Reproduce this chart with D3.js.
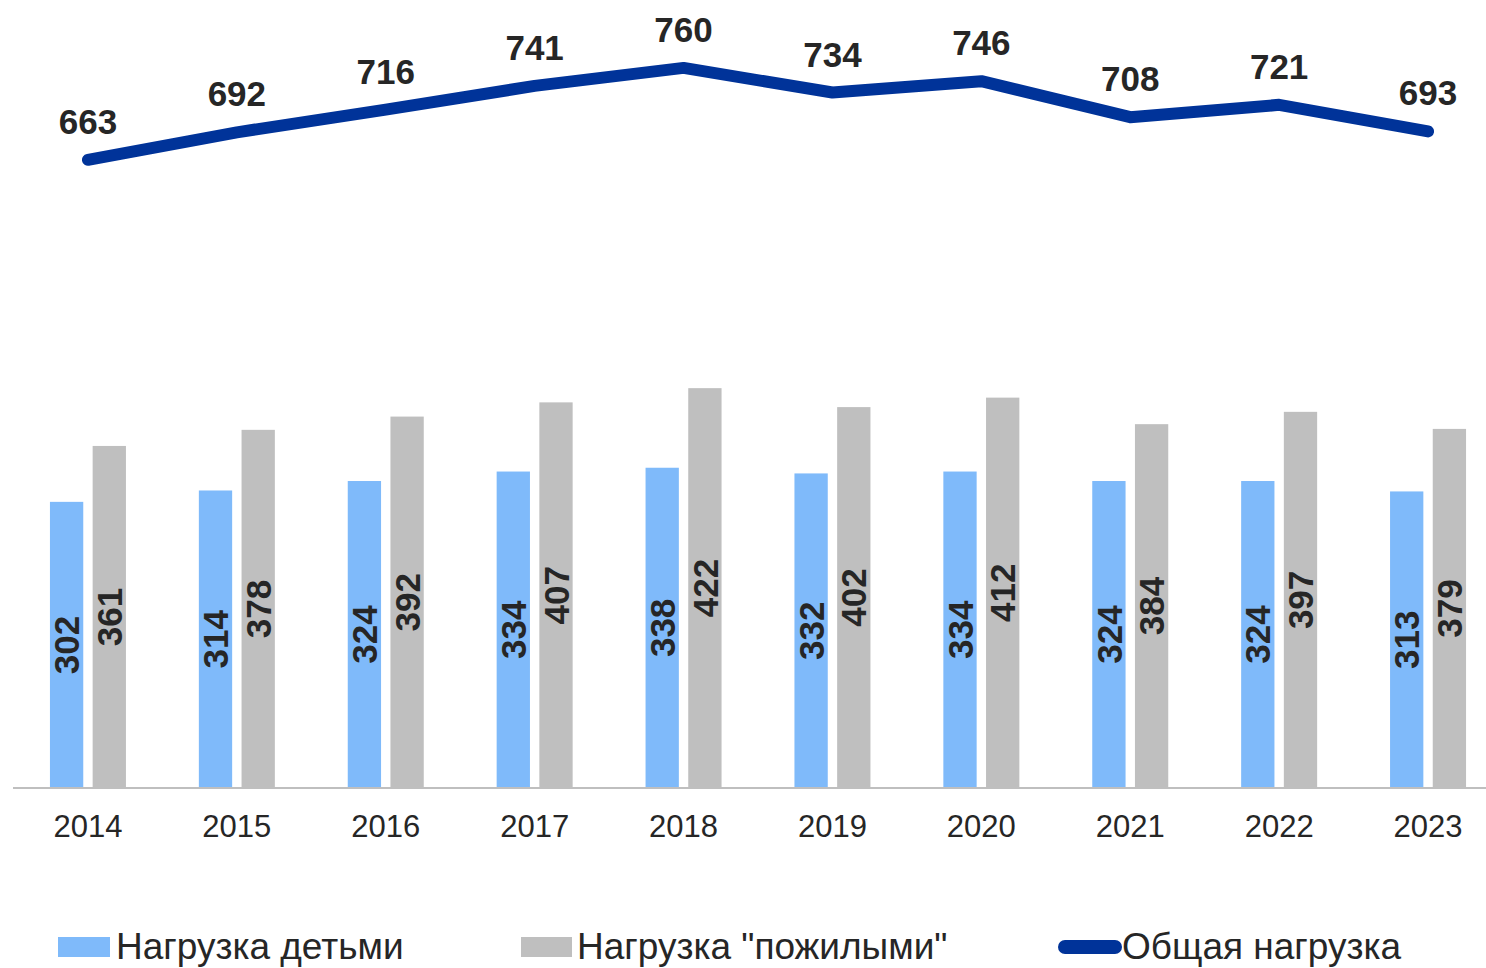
<!DOCTYPE html>
<html><head><meta charset="utf-8">
<script src="https://cdn.jsdelivr.net/npm/d3@7"></script>
<style>html,body{margin:0;padding:0;background:#fff;overflow:hidden}svg{display:block;font-family:"Liberation Sans",Arial,sans-serif}</style>
</head><body>
<svg id="c" width="1486" height="968"></svg>
<script>
const years = ["2014","2015","2016","2017","2018","2019","2020","2021","2022","2023"];
const kids = [302,314,324,334,338,332,334,324,324,313];
const elderly = [361,378,392,407,422,402,412,384,397,379];
const total = [663,692,716,741,760,734,746,708,721,693];
const seriesNames = ["Нагрузка детьми", "Нагрузка \"пожилыми\"", "Общая нагрузка"];

const colKids = "#7fbafa", colOld = "#bfbfbf", colLine = "#003399", txt = "#262626";
const svg = d3.select("#c");
const x = d3.scaleBand().domain(years).range([13.5, 1502.5]);
const xs = d3.scaleBand().domain(["k","o"]).range([-38, 38]).paddingInner(0.22);
const y = d3.scaleLinear().domain([0, 800]).range([788, 30]);
const cx = d => x(d) + x.bandwidth()/2;

// bars
const g = svg.append("g");
years.forEach((yr, i) => {
  [["k", kids[i], colKids], ["o", elderly[i], colOld]].forEach(([k, v, c]) => {
    const bx = cx(yr) + xs(k), bw = xs.bandwidth();
    g.append("rect").attr("x", bx).attr("y", y(v)).attr("width", bw).attr("height", y(0) - y(v)).attr("fill", c);
    const mx = bx + bw/2, my = (y(v) + y(0))/2;
    g.append("text").attr("transform", `translate(${mx},${my}) rotate(-90)`)
      .attr("text-anchor", "middle").attr("dy", "0.36em")
      .attr("font-size", 35).attr("font-weight", "bold").attr("fill", txt).text(v);
  });
});

// axis
const ax = svg.append("g").attr("transform", `translate(0,${y(0)})`)
  .call(d3.axisBottom(x).tickSize(0).tickPadding(0));
ax.select(".domain").attr("d", "M13,0H1486").attr("stroke", "#bfbfbf").attr("stroke-width", 2);
ax.selectAll("text").attr("font-size", 31).attr("fill", txt).attr("font-family", "Liberation Sans, Arial, sans-serif").attr("dy", 0).attr("y", 49);

// line
const line = d3.line().x((d, i) => cx(years[i])).y(d => y(d));
svg.append("path").datum(total).attr("d", line).attr("fill", "none")
  .attr("stroke", colLine).attr("stroke-width", 12).attr("stroke-linecap", "round").attr("stroke-linejoin", "round");
svg.selectAll(".tl").data(total).join("text").attr("class", "tl")
  .attr("x", (d, i) => cx(years[i])).attr("y", d => y(d) - 26)
  .attr("text-anchor", "middle").attr("font-size", 35).attr("font-weight", "bold").attr("fill", txt).text(d => d);

// legend
const lg = svg.append("g");
lg.append("rect").attr("x", 58).attr("y", 937).attr("width", 52).attr("height", 20).attr("fill", colKids);
lg.append("text").attr("x", 116).attr("y", 959).attr("font-size", 37).attr("fill", txt).text(seriesNames[0]);
lg.append("rect").attr("x", 521).attr("y", 937).attr("width", 51).attr("height", 20).attr("fill", colOld);
lg.append("text").attr("x", 577).attr("y", 959).attr("font-size", 37).attr("fill", txt).text(seriesNames[1]);
lg.append("line").attr("x1", 1065).attr("x2", 1115).attr("y1", 947).attr("y2", 947)
  .attr("stroke", colLine).attr("stroke-width", 14).attr("stroke-linecap", "round");
lg.append("text").attr("x", 1122).attr("y", 959).attr("font-size", 37).attr("fill", txt).text(seriesNames[2]);
</script>
</body></html>
